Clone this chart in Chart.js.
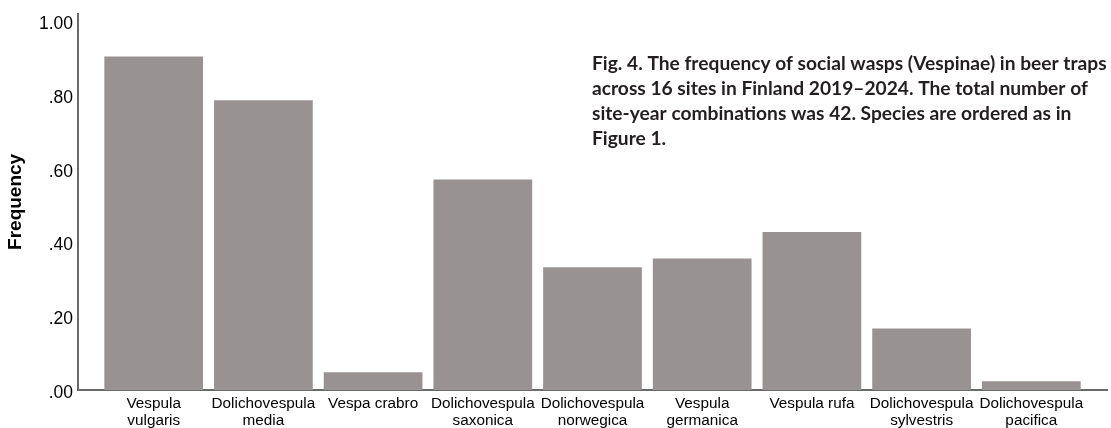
<!DOCTYPE html>
<html>
<head>
<meta charset="utf-8">
<script src="https://cdn.jsdelivr.net/npm/chart.js@4/dist/chart.umd.min.js"></script>
<style>
  html, body { margin: 0; padding: 0; background: #ffffff; }
  #wrap { position: relative; width: 1111px; height: 428px; }
</style>
</head>
<body>
<div id="wrap"><canvas id="c" width="1111" height="428"></canvas></div>
<script>
// ---- data ----
const species = [
  ["Vespula", "vulgaris"],
  ["Dolichovespula", "media"],
  ["Vespa crabro"],
  ["Dolichovespula", "saxonica"],
  ["Dolichovespula", "norwegica"],
  ["Vespula", "germanica"],
  ["Vespula rufa"],
  ["Dolichovespula", "sylvestris"],
  ["Dolichovespula", "pacifica"]
];
const frequency = [0.905, 0.786, 0.048, 0.571, 0.333, 0.357, 0.429, 0.167, 0.024];
const yTickValues = [0, 0.2, 0.4, 0.6, 0.8, 1.0];
const yTitle = "Frequency";
const captionLines = [
  "Fig. 4. The frequency of social wasps (Vespinae) in beer traps",
  "across 16 sites in Finland 2019\u20132024. The total number of",
  "site-year combinations was 42. Species are ordered as in",
  "Figure 1."
];

// ---- styles ----
const BAR_COLOR = "#989392";
const AXIS_COLOR = "#6a6a6a";
const FONT = "'Liberation Sans', Arial, sans-serif";

const captionPlugin = {
  id: "caption",
  afterDraw(chart) {
    const ctx = chart.ctx;
    ctx.save();
    ctx.fillStyle = "#231f20";
    ctx.font = "bold 19.2px Lato, 'Open Sans', sans-serif";
    ctx.textAlign = "left";
    ctx.textBaseline = "alphabetic";
    captionLines.forEach((line, i) => {
      ctx.fillText(line, 592, 70 + i * 25);
    });
    ctx.restore();
  }
};

new Chart(document.getElementById("c"), {
  type: "bar",
  data: {
    datasets: [{
      data: frequency.map((v, i) => ({ x: i, y: v })),
      backgroundColor: BAR_COLOR,
      borderWidth: 0,
      barPercentage: 0.9,
      categoryPercentage: 1.0
    }]
  },
  options: {
    responsive: false,
    animation: false,
    events: [],
    layout: { padding: { top: 9, right: 4, bottom: 0, left: 0 } },
    plugins: { legend: { display: false }, tooltip: { enabled: false } },
    scales: {
      x: {
        type: "linear",
        position: "bottom",
        offset: false,
        min: -0.69,
        max: species.length - 1 + 0.69,
        z: 1,
        grid: { display: false, drawTicks: false, offset: false },
        border: { display: true, color: AXIS_COLOR, width: 2 },
        afterFit(scale) { scale.height = 38; },
        ticks: {
          stepSize: 1,
          includeBounds: false,
          autoSkip: false,
          maxRotation: 0,
          minRotation: 0,
          padding: 5,
          color: "#000000",
          font: { family: FONT, size: 15.3, lineHeight: 1.12 },
          callback: (v) => (Number.isInteger(v) && v >= 0 && v < species.length) ? species[v] : ""
        }
      },
      y: {
        min: 0,
        max: 1.021,
        z: 1,
        grid: { display: false, drawTicks: false },
        border: { display: true, color: AXIS_COLOR, width: 2 },
        afterFit(scale) { scale.width = 78; },
        afterBuildTicks(scale) { scale.ticks = yTickValues.map(v => ({ value: v })); },
        title: {
          display: true,
          text: yTitle,
          color: "#000000",
          padding: { top: 4, bottom: 0 },
          font: { family: FONT, size: 19, weight: "bold" }
        },
        ticks: {
          padding: 5,
          labelOffset: 3,
          color: "#000000",
          font: { family: FONT, size: 17.5, lineHeight: 1.0 },
          callback: (v) => v.toFixed(2).replace(/^0/, "")
        }
      }
    }
  },
  plugins: [captionPlugin]
});
</script>
</body>
</html>
